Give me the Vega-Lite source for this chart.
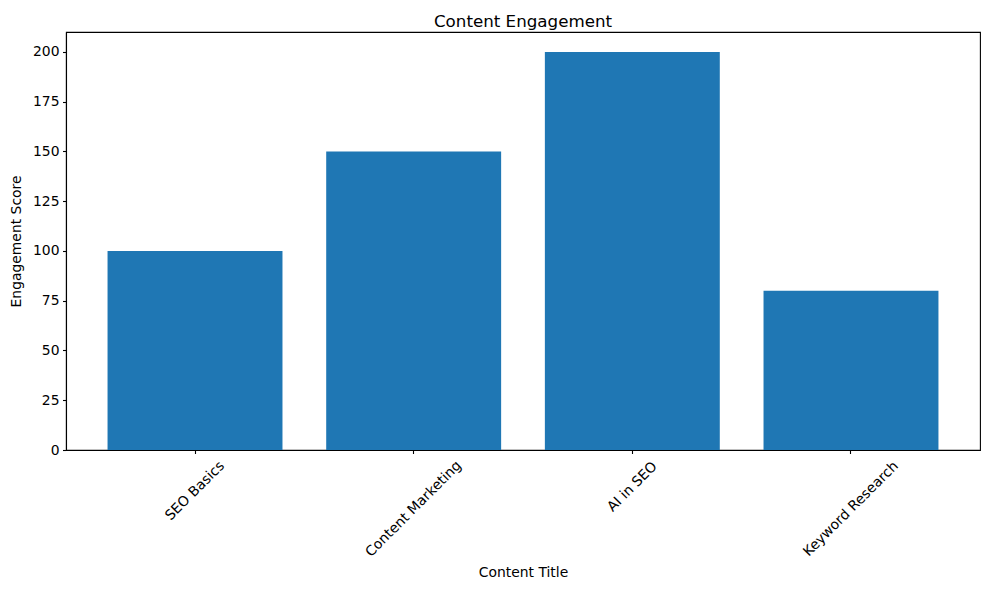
{
  "$schema": "https://vega.github.io/schema/vega-lite/v6.json",
  "autosize": "none",
  "padding": {"left": 66, "top": 32, "right": 9, "bottom": 140},
  "width": 914,
  "height": 418,
  "title": {"text": "Content Engagement", "font": "DejaVu Sans", "fontSize": 16.7, "fontWeight": "normal", "color": "black", "baseline": "bottom", "offset": 4, "dy": 20, "anchor": "middle", "frame": "group"},
  "config": {
    "view": {"stroke": "black", "strokeWidth": 1.1},
    "axis": {"grid": false, "domainColor": "black", "tickColor": "black", "tickSize": 3.5, "tickWidth": 1.1, "domainWidth": 1.1, "labelFont": "DejaVu Sans", "labelFontSize": 13.9, "labelColor": "black", "titleFont": "DejaVu Sans", "titleFontSize": 13.9, "titleFontWeight": "normal", "titleColor": "black"}
  },
  "data": {"values": [
    {"title": "SEO Basics", "score": 100},
    {"title": "Content Marketing", "score": 150},
    {"title": "AI in SEO", "score": 200},
    {"title": "Keyword Research", "score": 80}
  ]},
  "mark": {"type": "bar", "color": "#1f77b4"},
  "encoding": {
    "x": {
      "field": "title", "type": "nominal", "sort": null,
      "scale": {"paddingInner": 0.2, "paddingOuter": 0.19},
      "axis": {
        "title": "Content Title",
        "labelAngle": -45,
        "labelAlign": "center",
        "labelBaseline": "middle",
        "labelPadding": {"condition": [
          {"test": "datum.value == 'SEO Basics'", "value": 37},
          {"test": "datum.value == 'AI in SEO'", "value": 33}
        ], "value": 55},
        "titleY": 122,
        "titleBaseline": "middle"
      }
    },
    "y": {
      "field": "score", "type": "quantitative",
      "scale": {"domain": [0, 210], "nice": false},
      "axis": {"title": "Engagement Score", "values": [0, 25, 50, 75, 100, 125, 150, 175, 200], "titleX": -50, "titleBaseline": "middle", "labelPadding": 3.5}
    }
  }
}
